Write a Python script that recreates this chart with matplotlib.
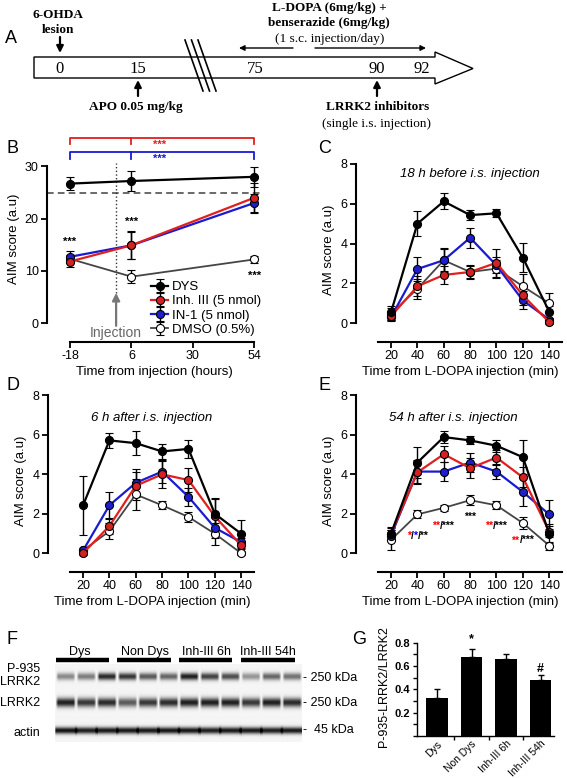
import matplotlib
matplotlib.use('Agg')
import matplotlib.pyplot as plt
import numpy as np
from matplotlib.offsetbox import TextArea, HPacker, AnnotationBbox
from matplotlib.patches import Polygon
from matplotlib.ticker import MultipleLocator, FixedLocator

plt.rcParams['font.family'] = ['Liberation Sans', 'DejaVu Sans']
plt.rcParams['axes.unicode_minus'] = False

# ---------------- data ----------------
# Panel A timeline
timeline_days = ['0', '15', '75', '90', '92']

# Panel B
b_times = [-18, 6, 54]
b_dys = [26.7, 27.2, 28.0]
b_dys_err = [1.2, 1.9, 1.9]
b_inh3 = [11.8, 14.9, 24.0]
b_inh3_err = [1.0, 2.7, 2.9]
b_in1 = [12.7, 14.9, 23.0]
b_in1_err = [1.2, 2.6, 1.8]
b_dmso = [12.3, 8.9, 12.2]
b_dmso_err = [0.8, 1.3, 0.6]
b_sig_x = [-18, 6, 54]
b_sig_y = [15.5, 19.3, 9.0]

# Panels C-E
t_min = [20, 40, 60, 80, 100, 120, 140]
c_dys = [0.55, 5.0, 6.12, 5.43, 5.52, 3.29, 0.58]
c_dys_err = [0.3, 0.63, 0.4, 0.27, 0.2, 0.73, 0.3]
c_inh3 = [0.35, 1.85, 2.42, 2.57, 3.03, 1.4, 0.05]
c_inh3_err = [0.2, 0.5, 0.45, 0.3, 0.7, 0.5, 0.1]
c_in1 = [0.3, 2.72, 3.16, 4.29, 2.9, 1.14, 0.18]
c_in1_err = [0.2, 0.62, 0.55, 0.5, 0.4, 0.45, 0.1]
c_dmso = [0.47, 1.73, 3.16, 2.57, 2.74, 1.85, 1.0]
c_dmso_err = [0.3, 0.5, 0.6, 0.35, 0.45, 0.6, 0.5]

d_dys = [2.43, 5.72, 5.58, 5.16, 5.29, 2.0, 0.99]
d_dys_err = [1.48, 0.36, 0.6, 0.4, 0.45, 0.8, 0.7]
d_inh3 = [0.0, 1.38, 3.42, 4.0, 3.71, 1.87, 0.4]
d_inh3_err = [0.1, 0.4, 0.7, 0.7, 0.6, 0.9, 0.2]
d_in1 = [0.14, 2.43, 3.57, 4.14, 2.86, 1.29, 0.56]
d_in1_err = [0.1, 0.7, 0.7, 0.6, 0.45, 0.5, 0.2]
d_dmso = [0.14, 1.12, 2.98, 2.43, 1.84, 0.99, 0.0]
d_dmso_err = [0.1, 0.4, 0.8, 0.2, 0.25, 0.55, 0.1]

e_dys = [1.0, 4.6, 5.89, 5.72, 5.45, 4.87, 1.0]
e_dys_err = [0.35, 0.8, 0.3, 0.2, 0.3, 0.85, 0.5]
e_inh3 = [1.0, 4.1, 5.02, 4.31, 4.85, 3.85, 1.1]
e_inh3_err = [0.3, 0.6, 0.4, 0.5, 0.4, 0.5, 0.3]
e_in1 = [0.9, 4.14, 4.14, 4.6, 4.14, 3.11, 1.97]
e_in1_err = [0.3, 0.6, 0.5, 0.5, 0.4, 0.7, 0.75]
e_dmso = [0.68, 1.97, 2.3, 2.69, 2.43, 1.53, 0.39]
e_dmso_err = [0.5, 0.2, 0.15, 0.25, 0.2, 0.3, 0.2]

e_annot_x = [40, 60, 80, 100, 120]
e_annot_y = [0.87, 1.38, 1.84, 1.38, 0.65]
e_annot_parts = [
    [('*', 'red'), ('/', 'black'), ('*', 'blue'), ('/**', 'black')],
    [('**', 'red'), ('/***', 'black')],
    [('***', 'black')],
    [('**', 'red'), ('/***', 'black')],
    [('**', 'red'), ('/***', 'black')],
]

# Panel F (band intensities, 12 lanes)
f_groups = ['Dys', 'Non Dys', 'Inh-III 6h', 'Inh-III 54h']
f_p935 = [0.45, 0.5, 0.85, 0.8, 0.65, 0.6, 0.9, 0.75, 0.7, 0.4, 0.6, 0.55]
f_lrrk2 = [0.9, 0.8, 0.85, 0.65, 0.8, 0.85, 0.9, 0.9, 0.9, 0.8, 0.9, 0.85]
f_actin = [0.95, 0.9, 0.92, 0.92, 0.92, 0.93, 0.93, 0.9, 0.92, 0.92, 0.9, 0.92]

# Panel G
g_labels = ['Dys', 'Non Dys', 'Inh-III 6h', 'Inh-III 54h']
g_vals = [0.325, 0.675, 0.66, 0.48]
g_err = [0.075, 0.075, 0.04, 0.04]

# ---------------- figure ----------------
W, H = 567, 778
fig = plt.figure(figsize=(W / 100, H / 100), dpi=100)

ov = fig.add_axes([0, 0, 1, 1])
ov.set_xlim(0, W)
ov.set_ylim(H, 0)
ov.axis('off')


def px_axes(x0, y0, x1, y1):
    return fig.add_axes([x0 / W, 1 - y1 / H, (x1 - x0) / W, (y1 - y0) / H])


RED = '#e0201e'
BLUE = '#1a1ad2'
GRAY = '#454545'

# ---------------- Panel A ----------------
serif = ['Liberation Serif', 'DejaVu Serif']
ov.text(5, 38, 'A', fontsize=13, va='center', ha='left')
tl = Polygon([(34, 57), (435, 57), (435, 52), (473, 68.5), (435, 84), (435, 78), (34, 78)],
             closed=True, facecolor='white', edgecolor='black', lw=1.0)
ov.add_patch(tl)
for dx in [0, 6.5, 13]:
    ov.plot([185 + dx, 203 + dx], [40, 91], color='black', lw=1.2)
day_pos = [60, 138, 255, 377, 422]
for d, xp in zip(timeline_days, day_pos):
    ov.text(xp, 69, d, family=serif, fontsize=12, ha='center', va='center')
ov.text(58, 15, '6-OHDA', family=serif, fontweight='bold', fontsize=9.5, ha='center', va='center')
ov.text(58, 30, 'lesion', family=serif, fontweight='bold', fontsize=9.5, ha='center', va='center')
arr = dict(arrowstyle='-|>', color='black', lw=1.6, mutation_scale=10, shrinkA=0, shrinkB=0)
ov.annotate('', xy=(60, 53), xytext=(60, 37), arrowprops=arr)
ov.text(329, 8, 'L-DOPA (6mg/kg) +', family=serif, fontweight='bold', fontsize=9.5, ha='center', va='center')
ov.text(329, 23, 'benserazide (6mg/kg)', family=serif, fontweight='bold', fontsize=9.5, ha='center', va='center')
ov.text(330, 39, '(1 s.c. injection/day)', family=serif, fontsize=9.5, ha='center', va='center')
arr2 = dict(arrowstyle='-|>', color='black', lw=1.0, mutation_scale=8, shrinkA=0, shrinkB=0)
ov.annotate('', xy=(239, 48), xytext=(293, 48), arrowprops=arr2)
ov.annotate('', xy=(426, 48), xytext=(315, 48), arrowprops=arr2)
ov.annotate('', xy=(138, 80), xytext=(138, 96), arrowprops=arr)
ov.text(136, 107, 'APO 0.05 mg/kg', family=serif, fontweight='bold', fontsize=9.5, ha='center', va='center')
ov.annotate('', xy=(377, 80), xytext=(377, 96), arrowprops=arr)
ov.text(378, 107, 'LRRK2 inhibitors', family=serif, fontweight='bold', fontsize=9.5, ha='center', va='center')
ov.text(377, 124, '(single i.s. injection)', family=serif, fontsize=9.5, ha='center', va='center')


# ---------------- helpers ----------------
def style(ax, xb, yb):
    for s in ['top', 'right']:
        ax.spines[s].set_visible(False)
    ax.spines['left'].set_bounds(*yb)
    ax.spines['bottom'].set_bounds(*xb)
    for s in ['left', 'bottom']:
        ax.spines[s].set_linewidth(1.5)
    ax.tick_params(width=1.3, length=4, labelsize=9, pad=2)
    ax.patch.set_alpha(0)


def series(ax, x, y, e, kind, label=None):
    st = {
        'dys': dict(color='black', mfc='black', lw=1.6),
        'inh3': dict(color=RED, mfc='#d42222', lw=1.6),
        'in1': dict(color=BLUE, mfc='#1e1ecf', lw=1.6),
        'dmso': dict(color=GRAY, mfc='white', lw=1.3),
    }[kind]
    ax.errorbar(x, y, yerr=e, color=st['color'], lw=st['lw'], marker='o', ms=5.8,
                mfc=st['mfc'], mec='black', mew=0.8, ecolor='black', elinewidth=1.0,
                capsize=3.2, capthick=1.0, label=label, clip_on=False, zorder=3)


# ---------------- Panel B ----------------
axB = px_axes(47, 135, 262, 342)
axB.set_xlim(-27, 57)
axB.set_ylim(-3.6, 36)
style(axB, (-18, 54), (0, 30))
axB.set_xticks([-18, 6, 30, 54])
axB.set_yticks([0, 10, 20, 30])
axB.axhline(25, ls='--', color='#505050', lw=1.2, dashes=(4, 2.5), zorder=1)
axB.plot([0, 0], [5.8, 30.6], ls=':', color='#333333', lw=1.0, zorder=1)
axB.annotate('', xy=(0, 5.8), xytext=(0, -0.5),
             arrowprops=dict(arrowstyle='-|>', color='#777777', lw=1.6, mutation_scale=11,
                             shrinkA=0, shrinkB=0))
axB.text(0, -1.9, 'Injection', color='#666666', fontsize=10, ha='center', va='center')
series(axB, b_times, b_dmso, b_dmso_err, 'dmso', 'DMSO (0.5%)')
series(axB, b_times, b_in1, b_in1_err, 'in1', 'IN-1 (5 nmol)')
series(axB, b_times, b_inh3, b_inh3_err, 'inh3', 'Inh. III (5 nmol)')
series(axB, b_times, b_dys, b_dys_err, 'dys', 'DYS')
for x, y in zip(b_sig_x, b_sig_y):
    axB.text(x, y, '***', fontsize=8, fontweight='bold', ha='center', va='center')
for col, ytop, ystar in [(RED, 35.4, 34.1), (BLUE, 32.7, 31.4)]:
    axB.plot([-18, -18, 54, 54], [ytop - 1.2, ytop, ytop, ytop - 1.2], color=col, lw=1.3, clip_on=False)
    axB.plot([6, 6], [ytop, ytop - 1.2], color=col, lw=1.3, clip_on=False)
    axB.text(17, ystar, '***', color=col, fontsize=8, fontweight='bold', ha='center', va='center')
h, l = axB.get_legend_handles_labels()
order = [3, 2, 1, 0]
leg = axB.legend([h[i] for i in order], [l[i] for i in order], loc='upper left',
                 bbox_to_anchor=(151 / W, 1 - 281 / H), bbox_transform=fig.transFigure,
                 frameon=False, fontsize=9.5, handlelength=1.3, handletextpad=0.3,
                 labelspacing=0.15, borderpad=0, borderaxespad=0)
axB.set_ylabel('AIM score (a.u)', fontsize=9.5, labelpad=3)
axB.set_xlabel('Time from injection (hours)', fontsize=9.5, labelpad=3)
ov.text(7, 148, 'B', fontsize=13, va='center', ha='left')


# ---------------- Panels C, D, E ----------------
def time_panel(box, data, title, title_x, label, lx, ly):
    ax = px_axes(*box)
    ax.set_xlim(-6.6, 152)
    ax.set_ylim(-0.95, 8.3)
    style(ax, (10, 150), (0, 8))
    ax.set_xticks(t_min)
    ax.set_yticks([0, 2, 4, 6, 8])
    dys, dyse, inh, inhe, in1, in1e, dm, dme = data
    series(ax, t_min, dm, dme, 'dmso')
    series(ax, t_min, in1, in1e, 'in1')
    series(ax, t_min, inh, inhe, 'inh3')
    series(ax, t_min, dys, dyse, 'dys')
    ax.text(title_x, title[1], title[0], style='italic', fontsize=9.5, ha='center', va='center')
    ax.set_ylabel('AIM score (a.u)', fontsize=9.5, labelpad=4)
    ax.set_xlabel('Time from L-DOPA injection (min)', fontsize=9.5, labelpad=3)
    ov.text(lx, ly, label, fontsize=13, va='center', ha='left')
    return ax


axC = time_panel((356, 158, 565, 342),
                 (c_dys, c_dys_err, c_inh3, c_inh3_err, c_in1, c_in1_err, c_dmso, c_dmso_err),
                 ('18 h before i.s. injection', 7.5), 80, 'C', 318, 148)
axD = time_panel((48, 389.5, 257, 572),
                 (d_dys, d_dys_err, d_inh3, d_inh3_err, d_in1, d_in1_err, d_dmso, d_dmso_err),
                 ('6 h after i.s. injection', 6.86), 72, 'D', 6, 385)
axE = time_panel((356, 389.5, 565, 572),
                 (e_dys, e_dys_err, e_inh3, e_inh3_err, e_in1, e_in1_err, e_dmso, e_dmso_err),
                 ('54 h after i.s. injection', 6.86), 67, 'E', 318, 385)

for x, y, parts in zip(e_annot_x, e_annot_y, e_annot_parts):
    areas = [TextArea(t, textprops=dict(color=c, fontsize=7.5, fontweight='bold')) for t, c in parts]
    box = HPacker(children=areas, align='baseline', pad=0, sep=0)
    ab = AnnotationBbox(box, (x, y), xycoords='data', frameon=False, box_alignment=(0.5, 0.5), pad=0)
    axE.add_artist(ab)

# ---------------- Panel F ----------------
ov.text(6, 640, 'F', fontsize=13, va='center', ha='left')
bx0, bx1, by0, by1 = 55, 302, 664, 742
nx, ny = 247, 78
img = np.full((ny, nx), 0.96)
yy = np.arange(ny)[:, None] + by0
xx = np.arange(nx)[None, :] + bx0
lane_w = (bx1 - bx0) / 12.0
rows = [(f_p935, 676, 2.6, 0.28), (f_lrrk2, 702, 3.2, 0.25), (f_actin, 730, 2.4, 0.08)]
for vals, yc, sig, gap in rows:
    for i, v in enumerate(vals):
        cx = bx0 + (i + 0.5) * lane_w
        hx = lane_w * (0.5 - gap / 2)
        px = np.clip(1 - np.maximum(np.abs(xx - cx) - hx, 0) / 2.5, 0, 1)
        py = np.exp(-0.5 * ((yy - yc) / sig) ** 2)
        img = img - 0.93 * v * px * py
img = np.clip(img, 0, 1)
ov.imshow(img, cmap='gray', vmin=0, vmax=1, extent=(bx0, bx1, by1, by0), aspect='auto',
          interpolation='bilinear', zorder=0)
ov.set_xlim(0, W)
ov.set_ylim(H, 0)
grp_x = [80, 145, 206, 268]
grp_bars = [(56, 109), (117, 171), (179, 232), (241, 295)]
for g, gx, (a, b) in zip(f_groups, grp_x, grp_bars):
    ov.text(gx, 652, g, fontsize=9, ha='center', va='center')
    ov.plot([a, b], [660, 660], color='black', lw=3.2, solid_capstyle='butt')
ov.text(40, 669, 'P-935', fontsize=9, ha='right', va='center')
ov.text(40, 682, 'LRRK2', fontsize=9, ha='right', va='center')
ov.text(40, 703, 'LRRK2', fontsize=9, ha='right', va='center')
ov.text(40, 733, 'actin', fontsize=9, ha='right', va='center')
ov.text(303, 678, '- 250 kDa', fontsize=9, ha='left', va='center')
ov.text(303, 703, '- 250 kDa', fontsize=9, ha='left', va='center')
ov.text(303, 730, '-  45 kDa', fontsize=9, ha='left', va='center')

# ---------------- Panel G ----------------
ov.text(352, 640, 'G', fontsize=13, va='center', ha='left')
axG = px_axes(417, 637, 555, 736)
axG.set_xlim(-0.58, 3.42)
axG.set_ylim(0, 0.85)
for s in ['top', 'right']:
    axG.spines[s].set_visible(False)
axG.spines['left'].set_bounds(0, 0.8)
axG.spines['bottom'].set_bounds(-0.58, 3.38)
for s in ['left', 'bottom']:
    axG.spines[s].set_linewidth(1.0)
axG.patch.set_alpha(0)
gx = np.arange(len(g_labels))
axG.bar(gx, g_vals, width=0.63, color='black', zorder=2)
axG.errorbar(gx, g_vals, yerr=[[0] * 4, g_err], fmt='none', ecolor='black', elinewidth=1.0,
             capsize=2.5, capthick=1.0, zorder=1)
axG.set_yticks([0.2, 0.4, 0.6, 0.8])
axG.set_yticklabels(['0.2', '0.4', '0.6', '0.8'], fontweight='bold')
axG.yaxis.set_minor_locator(MultipleLocator(0.1))
axG.tick_params(axis='y', which='major', length=3, width=1.0, labelsize=8, pad=2)
axG.tick_params(axis='y', which='minor', length=3, width=1.0)
axG.set_xticks(gx)
axG.set_xticklabels(g_labels, rotation=45, ha='right', rotation_mode='anchor', fontsize=7.5)
axG.tick_params(axis='x', which='major', length=0, pad=2)
axG.xaxis.set_minor_locator(FixedLocator([0.5, 1.5, 2.5]))
axG.tick_params(axis='x', which='minor', length=3, width=1.0)
axG.text(1, 0.83, '*', fontsize=9, fontweight='bold', ha='center', va='center')
axG.text(3, 0.575, '#', fontsize=9, fontweight='bold', ha='center', va='center')
axG.set_ylabel('P-935-LRRK2/LRRK2', fontsize=9, labelpad=3)

fig.savefig('out.png', dpi=100)
